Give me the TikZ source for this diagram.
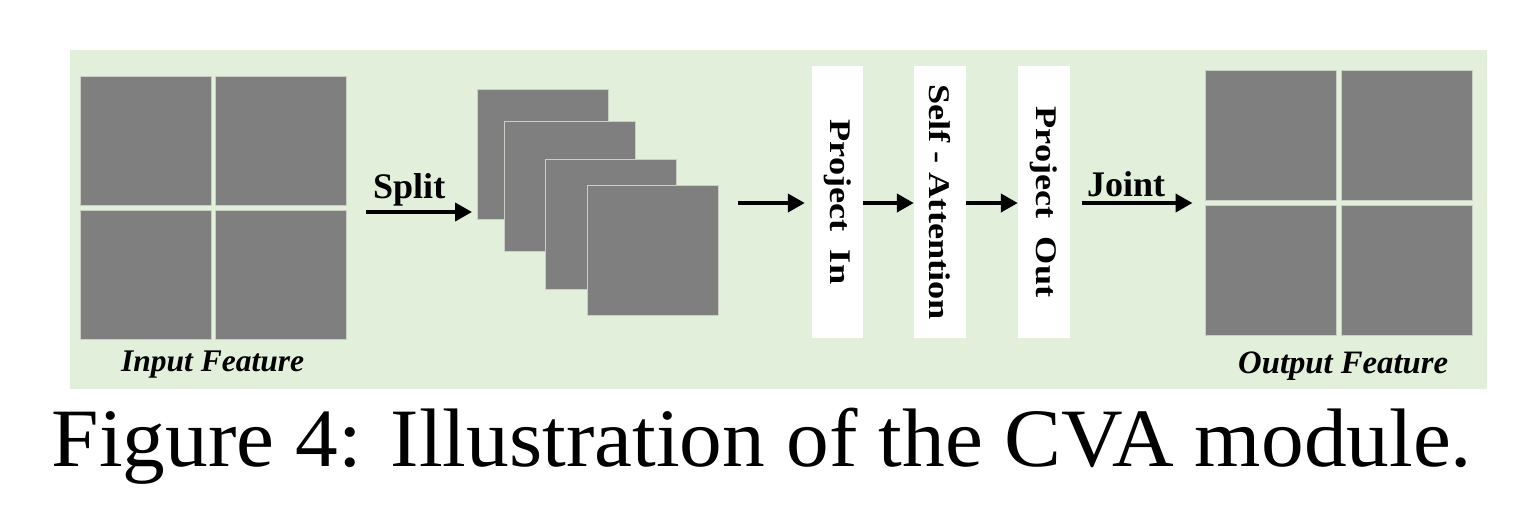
\documentclass[tikz,border=0pt]{standalone}
\usepackage{fontspec}
\usepackage{graphicx}
\setmainfont{Liberation Serif}
\usetikzlibrary{arrows.meta}
\definecolor{bggreen}{HTML}{E2EFDA}
\definecolor{tilegray}{HTML}{7F7F7F}
\definecolor{tileedge}{HTML}{C9CFC4}
\newcommand{\stretchlabel}[1]{\scalebox{1.21}[1]{#1}}
\tikzset{
  tile/.style={draw=tileedge, fill=tilegray, line width=1pt, inner sep=0pt, minimum width=131pt, minimum height=129pt},
  stackbox/.style={draw=tileedge, fill=tilegray, line width=1pt, inner sep=0pt, minimum width=131pt, minimum height=130pt},
  opbox/.style={fill=white, inner sep=0pt, minimum width=52pt, minimum height=272pt},
  oplabel/.style={rotate=-90, inner sep=0pt, font=\fontsize{30}{34}\selectfont\bfseries},
  arrlabel/.style={anchor=base west, inner sep=0pt, font=\fontsize{36}{40}\selectfont\bfseries},
  featlabel/.style={anchor=base west, inner sep=0pt, font=\fontsize{32.7}{36}\selectfont\bfseries\itshape},
  arr/.style={line width=4pt, -{Triangle[length=17pt,width=18pt]}}
}
\begin{document}
\begin{tikzpicture}[x=1pt,y=-1pt]
\useasboundingbox (0,0) rectangle (1530,504);
\fill[white] (0,0) rectangle (1530,504);
\fill[bggreen] (70,50) rectangle (1487,389);
% input feature
\node[tile] (in1) at (145.5,140.5) {};
\node[tile] (in2) at (281,140.5) {};
\node[tile] (in3) at (145.5,274.5) {};
\node[tile] (in4) at (281,274.5) {};
\node[featlabel, font=\fontsize{31.5}{35}\selectfont\bfseries\itshape] (inlab) at (121,371) {Input Feature};
% split
\node[arrlabel] (splitlab) at (373,198) {Split};
\coordinate (sps) at (366,212);
\coordinate (spe) at (472,212);
\draw[arr] (sps) -- (spe);
% stack
\node[stackbox] (s1) at (542.5,154) {};
\node[stackbox] (s2) at (569.5,186) {};
\node[stackbox] (s3) at (611,224) {};
\node[stackbox] (s4) at (652.5,250.5) {};
% operation boxes
\node[opbox, minimum width=51pt] (pin) at (837.5,202) {};
\node[opbox] (sa) at (940,202) {};
\node[opbox] (pout) at (1044,202) {};
\node[oplabel] (pinlab) at (pin.center) {\stretchlabel{Project\ \ In}};
\node[oplabel] (salab) at (sa.center) {\stretchlabel{Self - Attention}};
\node[oplabel] (poutlab) at (pout.center) {\stretchlabel{Project\ \ Out}};
\coordinate (a1s) at (738,203);
\draw[arr, shorten >=7pt] (a1s) -- (a1s -| pin.west);
\draw[arr] (pin.east |- a1s) -- (sa.west |- a1s);
\draw[arr] (sa.east |- a1s) -- (pout.west |- a1s);
% output feature
\node[tile, minimum height=130pt] (out1) at (1270.5,135) {};
\node[tile, minimum height=130pt] (out2) at (1406.5,135) {};
\node[tile, minimum height=130pt] (out3) at (1270.5,270) {};
\node[tile, minimum height=130pt] (out4) at (1406.5,270) {};
\node[featlabel] (outlab) at (1238,373) {Output Feature};
\node[arrlabel] (jointlab) at (1087,196) {Joint};
\draw[arr, shorten <=12pt, shorten >=12pt] (pout.east |- a1s) -- (out1.west |- a1s);
% caption
\node[anchor=base, inner sep=0pt, font=\fontsize{83}{90}\selectfont] (cap) at (762,466.5) {\scalebox{1.028}[1]{Figure 4: Illustration of the CVA module.}};
\end{tikzpicture}
\end{document}
